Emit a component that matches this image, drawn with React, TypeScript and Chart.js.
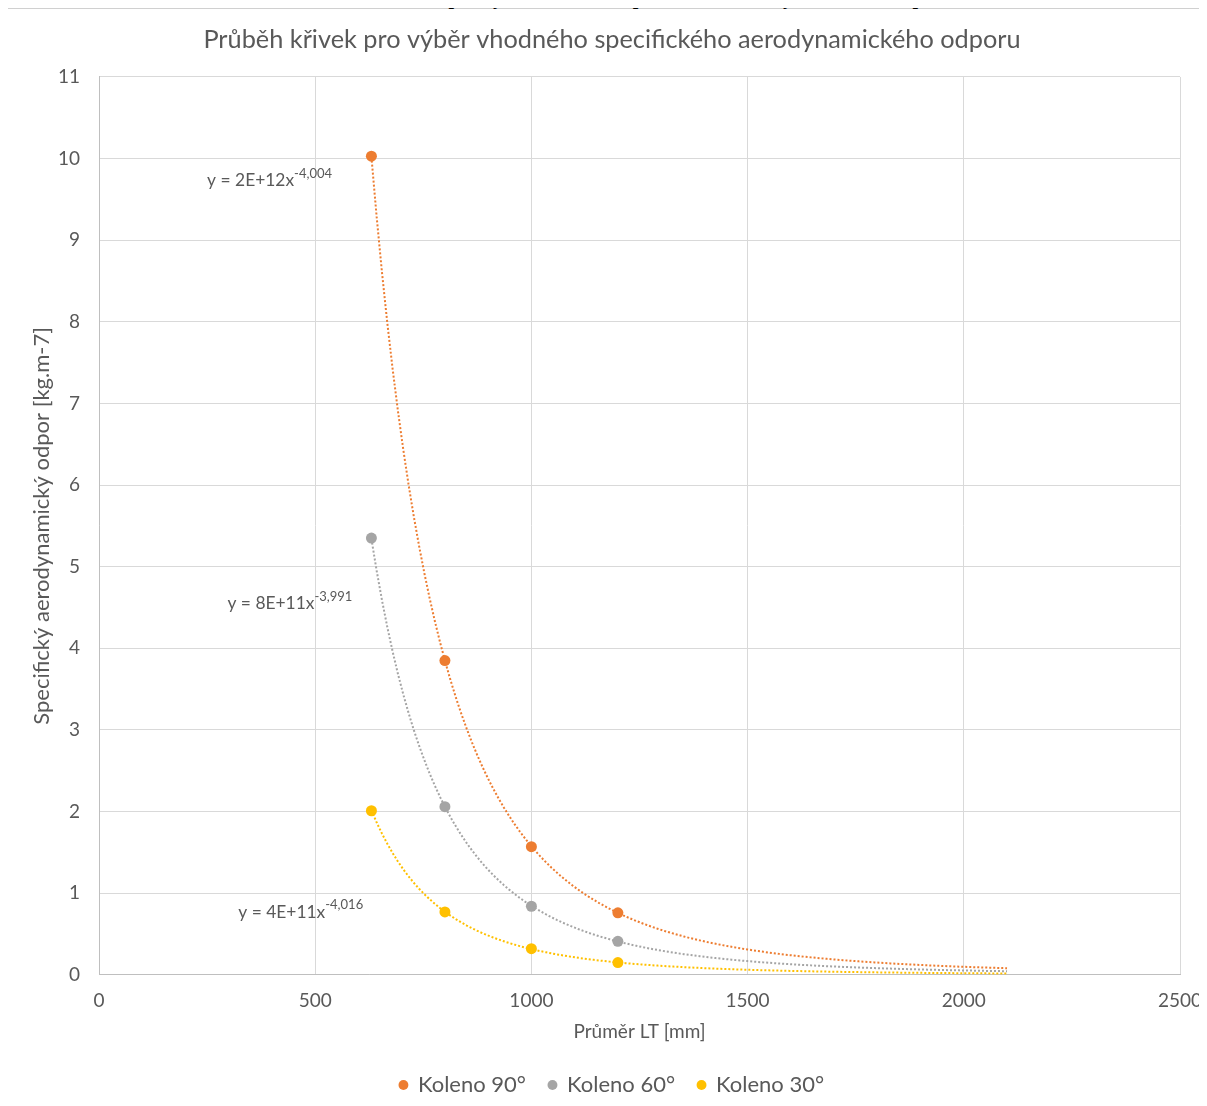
import React, { useEffect, useRef } from "react";
import { Chart, registerables } from "chart.js";

Chart.register(...registerables);

const diameters = [630, 800, 1000, 1200];
const koleno90 = [10.03, 3.85, 1.57, 0.76];
const koleno60 = [5.35, 2.06, 0.84, 0.41];
const koleno30 = [2.01, 0.77, 0.32, 0.15];
const seriesNames = ["Koleno 90°", "Koleno 60°", "Koleno 30°"];
const equations = [
  ["y = 2E+12x", "-4,004"],
  ["y = 8E+11x", "-3,991"],
  ["y = 4E+11x", "-4,016"],
];
const trendEnd = 2100;
const xTicks = [0, 500, 1000, 1500, 2000, 2500];
const yTicks = [0, 1, 2, 3, 4, 5, 6, 7, 8, 9, 10, 11];

const COLORS = ["#ED7D31", "#A5A5A5", "#FFC000"];
const FONT = "Lato, 'Open Sans', sans-serif";
const TEXT = "#595959";

if (typeof document !== "undefined") {
  document.documentElement.style.overflow = "hidden";
  document.body.style.overflow = "hidden";
}

// Excel-style power trendline: least squares in log-log space of the data
function powerFit(xs: number[], ys: number[]) {
  const n = xs.length;
  let sx = 0, sy = 0, sxx = 0, sxy = 0;
  for (let i = 0; i < n; i++) {
    const lx = Math.log(xs[i]);
    const ly = Math.log(ys[i]);
    sx += lx; sy += ly; sxx += lx * lx; sxy += lx * ly;
  }
  const b = (n * sxy - sx * sy) / (n * sxx - sx * sx);
  const a = Math.exp((sy - b * sx) / n);
  return { a, b };
}

function trendPoints(xs: number[], ys: number[]) {
  const { a, b } = powerFit(xs, ys);
  const pts: { x: number; y: number }[] = [];
  const start = xs[0];
  const steps = 120;
  for (let i = 0; i <= steps; i++) {
    const x = start + ((trendEnd - start) * i) / steps;
    pts.push({ x, y: a * Math.pow(x, b) });
  }
  return pts;
}

// label anchors (data coordinates of the left edge / vertical middle of each equation)
const labelAnchors = [
  { x: 250, y: 9.73 },
  { x: 297, y: 4.55 },
  { x: 322, y: 0.77 },
];

const equationPlugin = {
  id: "equations",
  afterDatasetsDraw(chart: any) {
    const { ctx, scales } = chart;
    ctx.save();
    ctx.fillStyle = TEXT;
    ctx.textBaseline = "middle";
    ctx.textAlign = "left";
    equations.forEach((eq, i) => {
      const px = scales.x.getPixelForValue(labelAnchors[i].x);
      const py = scales.y.getPixelForValue(labelAnchors[i].y);
      ctx.font = `17.4px ${FONT}`;
      ctx.fillText(eq[0], px, py);
      const w = ctx.measureText(eq[0]).width;
      ctx.font = `13px ${FONT}`;
      ctx.fillText(eq[1], px + w, py - 7);
    });
    ctx.restore();
  },
};

export default function App() {
  const ref = useRef<HTMLCanvasElement | null>(null);
  useEffect(() => {
    if (!ref.current) return;
    const series = [koleno90, koleno60, koleno30];
    const datasets: any[] = [];
    series.forEach((ys, i) => {
      datasets.push({
        label: seriesNames[i],
        data: diameters.map((x, j) => ({ x, y: ys[j] })),
        showLine: false,
        backgroundColor: COLORS[i],
        borderColor: COLORS[i],
        pointRadius: 5.5,
        pointHoverRadius: 5.5,
        pointBorderWidth: 0,
        order: 0,
      });
    });
    series.forEach((ys, i) => {
      datasets.push({
        label: "trend" + i,
        data: trendPoints(diameters, ys),
        showLine: true,
        borderColor: COLORS[i],
        borderWidth: 2,
        borderDash: [2, 2],
        pointRadius: 0,
        fill: false,
        tension: 0,
        order: 1,
      });
    });
    const chart = new Chart(ref.current, {
      type: "scatter",
      data: { datasets },
      plugins: [equationPlugin],
      options: {
        animation: false,
        responsive: false,
        maintainAspectRatio: false,
        layout: { padding: { left: 34, right: 22, top: 0, bottom: 0 } },
        plugins: {
          title: {
            display: true,
            text: "Průběh křivek pro výběr vhodného specifického aerodynamického odporu",
            color: TEXT,
            font: { family: FONT, size: 25.3, weight: "normal" },
            padding: { top: 16, bottom: 21.6 },
          },
          legend: {
            position: "bottom",
            labels: {
              filter: (item: any) => !String(item.text).startsWith("trend"),
              usePointStyle: true,
              pointStyle: "circle",
              boxWidth: 7,
              boxHeight: 7,
              color: TEXT,
              font: { family: FONT, size: 22 },
              padding: 23,
            },
          },
          tooltip: { enabled: false },
        },
        scales: {
          x: {
            type: "linear",
            min: 0,
            max: 2500,
            afterBuildTicks: (s: any) => { s.ticks = xTicks.map((v) => ({ value: v })); },
            afterFit: (s: any) => { s.paddingRight = 27; s.paddingLeft = 0; },
            ticks: {
              color: TEXT,
              font: { family: FONT, size: 19 },
              padding: 14.6,
              callback: (v: any) => String(v),
            },
            grid: { color: "#D9D9D9", lineWidth: 1, drawTicks: false },
            border: { color: "#BFBFBF", width: 1 },
            title: {
              display: true,
              text: "Průměr LT [mm]",
              color: TEXT,
              font: { family: FONT, size: 19 },
              padding: { top: -6.6, bottom: 8 },
            },
          },
          y: {
            type: "linear",
            min: 0,
            max: 11,
            afterBuildTicks: (s: any) => { s.ticks = yTicks.map((v) => ({ value: v })); },
            afterFit: (s: any) => { s.width = 60; },
            ticks: {
              color: TEXT,
              font: { family: FONT, size: 19 },
              padding: 19,
              callback: (v: any) => String(v),
            },
            grid: { color: "#D9D9D9", lineWidth: 1, drawTicks: false },
            border: { color: "#BFBFBF", width: 1 },
            title: {
              display: true,
              text: "Specifický aerodynamický odpor [kg.m-7]",
              color: TEXT,
              font: { family: FONT, size: 22 },
              padding: { top: -10, bottom: 0 },
            },
          },
        },
      },
    } as any);
    return () => chart.destroy();
  }, []);

  return (
    <div style={{ position: "relative", width: 1191, height: 1090 }}>
      <div
        style={{
          position: "absolute",
          top: 0,
          left: -4,
          width: 1204,
          height: 1098,
          border: "1px solid #D0D0D0",
          background: "#fff",
          boxSizing: "border-box",
          overflow: "hidden",
        }}
      >
        <canvas ref={ref} width={1202} height={1097} style={{ display: "block" }} />
      </div>
      <div
        style={{
          position: "absolute",
          top: -22,
          left: -8,
          width: 1207,
          textAlign: "center",
          fontFamily: "'Liberation Serif', 'Times New Roman', serif",
          fontWeight: "bold",
          fontSize: 20,
          lineHeight: "23px",
          whiteSpace: "nowrap",
        }}
      >
        Graf. 2 Průběh křivek pro výběr vhodného specifického aerodynamického odporu
      </div>
    </div>
  );
}
